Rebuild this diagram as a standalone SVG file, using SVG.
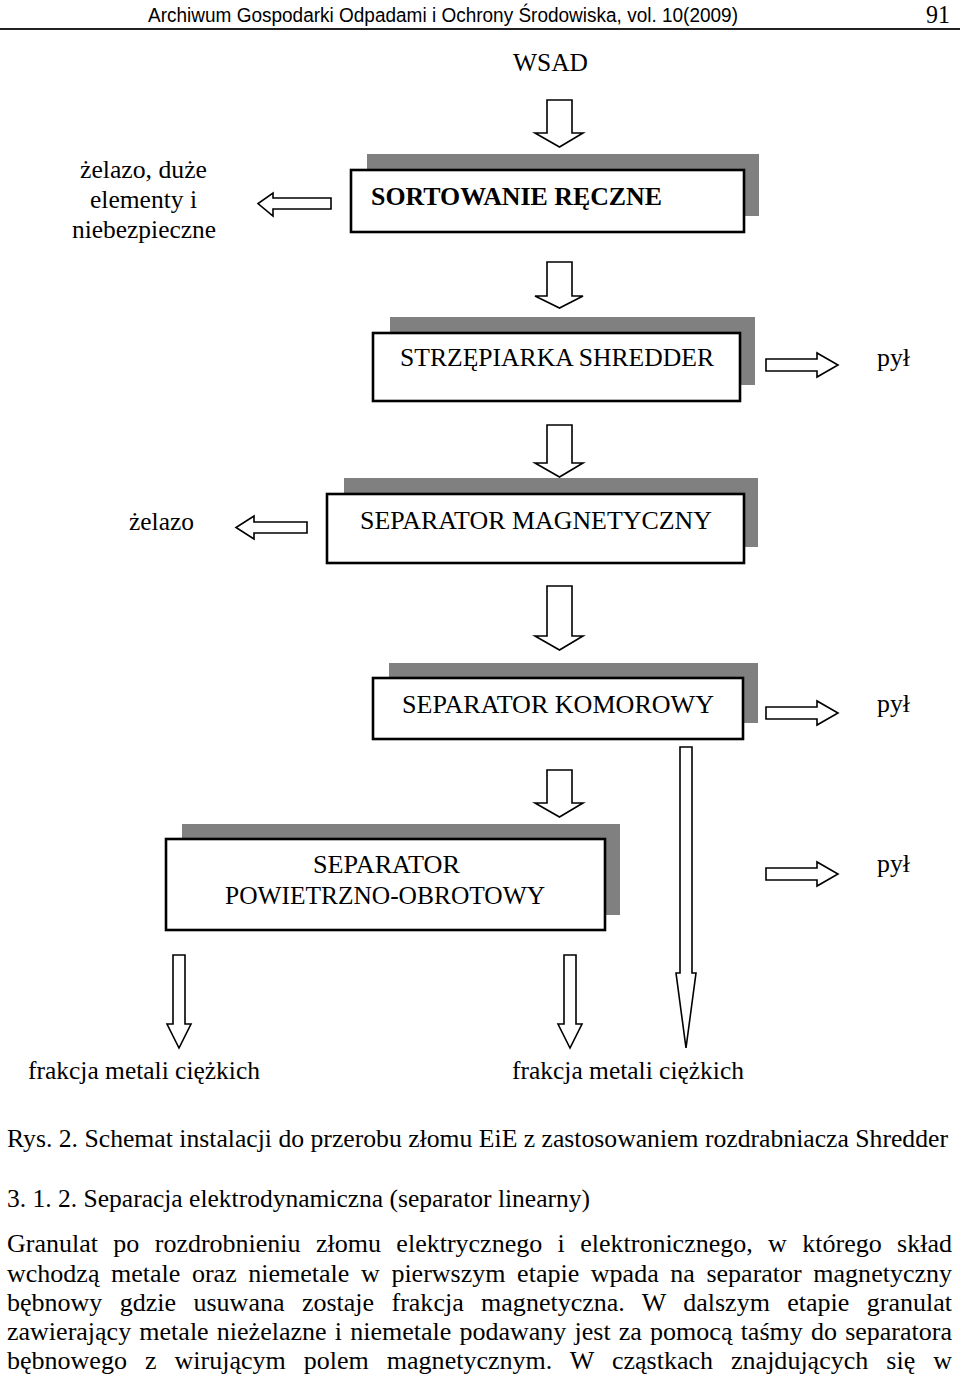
<svg xmlns="http://www.w3.org/2000/svg" width="960" height="1380" viewBox="0 0 960 1380">
<style>
.t{font-family:"Liberation Serif","Times New Roman",serif;font-size:25.5px;fill:#000}
.p{font-size:26px}
.hd{font-family:"Liberation Sans",Arial,sans-serif;font-size:20px;fill:#000}
.box{fill:#fff;stroke:#000;stroke-width:2.6}
.sh{fill:#808080}
.arr{fill:#fff;stroke:#000;stroke-width:1.6;stroke-linejoin:miter}
</style>
<rect width="960" height="1380" fill="#fff"/>
<g id="header">
<text class="hd" x="148" y="22" textLength="590" lengthAdjust="spacingAndGlyphs">Archiwum Gospodarki Odpadami i Ochrony Środowiska, vol. 10(2009)</text>
<text class="t" x="926" y="23" textLength="24" lengthAdjust="spacingAndGlyphs">91</text>
<line x1="0" y1="29" x2="960" y2="29" stroke="#222" stroke-width="2"/>
</g>
<g id="wsad"><text class="t" x="513" y="71" textLength="75" lengthAdjust="spacingAndGlyphs">WSAD</text></g>
<g id="sortowanie">
<rect class="sh" x="367" y="154" width="392" height="62"/>
<rect class="box" x="351" y="170" width="393" height="62"/>
<text class="t" x="371" y="205" font-weight="bold" textLength="291" lengthAdjust="spacingAndGlyphs">SORTOWANIE RĘCZNE</text>
</g>
<g id="zelazo-duze">
<text class="t" x="80" y="178" textLength="127" lengthAdjust="spacingAndGlyphs">żelazo, duże</text>
<text class="t" x="90" y="208" textLength="107" lengthAdjust="spacingAndGlyphs">elementy i</text>
<text class="t" x="72" y="238" textLength="144" lengthAdjust="spacingAndGlyphs">niebezpieczne</text>
</g>
<g id="strzepiarka">
<rect class="sh" x="390" y="317" width="365" height="68"/>
<rect class="box" x="373" y="333" width="367" height="68"/>
<text class="t" x="400" y="366" textLength="314" lengthAdjust="spacingAndGlyphs">STRZĘPIARKA SHREDDER</text>
</g>
<g id="pyl1"><text class="t" x="877" y="366" textLength="33" lengthAdjust="spacingAndGlyphs">pył</text></g>
<g id="magnetyczny">
<rect class="sh" x="344" y="478" width="414" height="69"/>
<rect class="box" x="327" y="494" width="417" height="69"/>
<text class="t" x="360" y="529" textLength="352" lengthAdjust="spacingAndGlyphs">SEPARATOR MAGNETYCZNY</text>
</g>
<g id="zelazo"><text class="t" x="129" y="530" textLength="65" lengthAdjust="spacingAndGlyphs">żelazo</text></g>
<g id="komorowy">
<rect class="sh" x="389" y="663" width="369" height="60"/>
<rect class="box" x="373" y="678" width="370" height="61"/>
<text class="t" x="402" y="713" textLength="312" lengthAdjust="spacingAndGlyphs">SEPARATOR KOMOROWY</text>
</g>
<g id="pyl2"><text class="t" x="877" y="712" textLength="33" lengthAdjust="spacingAndGlyphs">pył</text></g>
<g id="powietrzno">
<rect class="sh" x="182" y="824" width="438" height="91"/>
<rect class="box" x="166" y="839" width="439" height="91"/>
<text class="t" x="313" y="873" textLength="147" lengthAdjust="spacingAndGlyphs">SEPARATOR</text>
<text class="t" x="225" y="904" textLength="320" lengthAdjust="spacingAndGlyphs">POWIETRZNO-OBROTOWY</text>
</g>
<g id="pyl3"><text class="t" x="877" y="872" textLength="33" lengthAdjust="spacingAndGlyphs">pył</text></g>
<g id="frakcja1"><text class="t" x="28" y="1079" textLength="232" lengthAdjust="spacingAndGlyphs">frakcja metali ciężkich</text></g>
<g id="frakcja2"><text class="t" x="512" y="1079" textLength="232" lengthAdjust="spacingAndGlyphs">frakcja metali ciężkich</text></g>
<g id="connectors">
<path class="arr" d="M547,100H572V133H583L559.5,147L535,133H547Z"/>
<path class="arr" d="M547,262H572V296H583L559.5,308L535,296H547Z"/>
<path class="arr" d="M547,425H572V463H583L559.5,477L535,463H547Z"/>
<path class="arr" d="M547,586H572V636H583L559.5,650L535,636H547Z"/>
<path class="arr" d="M547,770H572V803H583L559.5,817L535,803H547Z"/>
<path class="arr" d="M331,198V209H273V216L258,203.5L273,193V198Z"/>
<path class="arr" d="M307,522V533H254V539L236,527.5L254,516V522Z"/>
<path class="arr" d="M766,359H817V353L838,365L817,377V371H766Z"/>
<path class="arr" d="M766,707H817V701L838,713L817,725V719H766Z"/>
<path class="arr" d="M766,868H817V862L838,874L817,886V880H766Z"/>
<path class="arr" d="M680,747H692V973H696L686,1048L676,973H680Z"/>
<path class="arr" d="M173,955H185V1024H191L179,1048L167,1024H173Z"/>
<path class="arr" d="M564,955H576V1024H582L570,1048L558,1024H564Z"/>
</g>
<g id="caption">
<text class="t p" x="7" y="1147" textLength="941" lengthAdjust="spacingAndGlyphs">Rys. 2. Schemat instalacji do przerobu złomu EiE z zastosowaniem rozdrabniacza Shredder</text>
<text class="t p" x="7" y="1207" textLength="583" lengthAdjust="spacingAndGlyphs">3. 1. 2. Separacja elektrodynamiczna (separator linearny)</text>
<text class="t p" x="7" y="1252" word-spacing="8.9" textLength="945" lengthAdjust="spacingAndGlyphs">Granulat po rozdrobnieniu złomu elektrycznego i elektronicznego, w którego skład</text>
<text class="t p" x="7" y="1282" word-spacing="5.1" textLength="945" lengthAdjust="spacingAndGlyphs">wchodzą metale oraz niemetale w pierwszym etapie wpada na separator magnetyczny</text>
<text class="t p" x="7" y="1311" word-spacing="10.9" textLength="945" lengthAdjust="spacingAndGlyphs">bębnowy gdzie usuwana zostaje frakcja magnetyczna. W dalszym etapie granulat</text>
<text class="t p" x="7" y="1340" word-spacing="1.7" textLength="945" lengthAdjust="spacingAndGlyphs">zawierający metale nieżelazne i niemetale podawany jest za pomocą taśmy do separatora</text>
<text class="t p" x="7" y="1369" word-spacing="11.5" textLength="945" lengthAdjust="spacingAndGlyphs">bębnowego z wirującym polem magnetycznym. W cząstkach znajdujących się w</text>
</g>
</svg>
